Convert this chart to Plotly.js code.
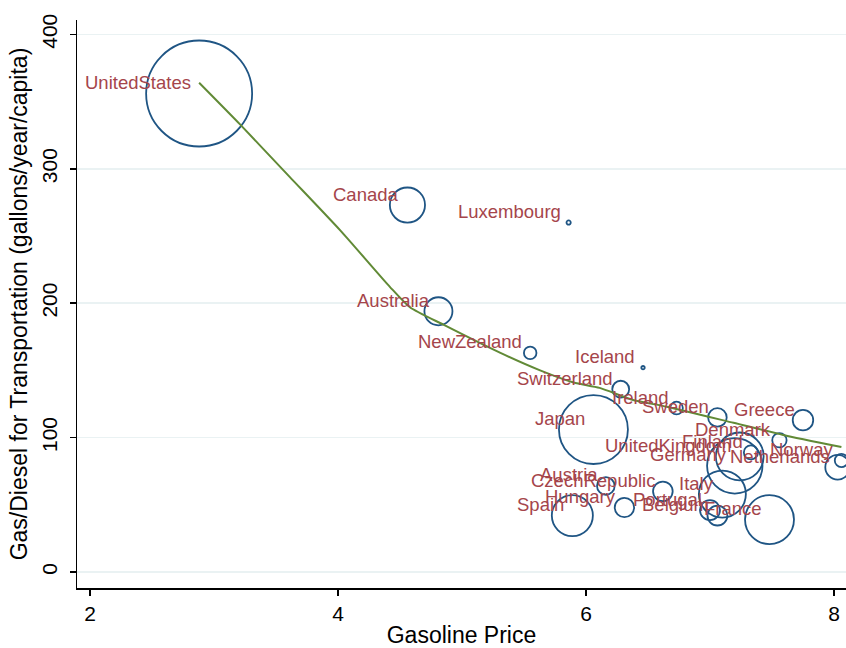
<!DOCTYPE html>
<html>
<head>
<meta charset="utf-8">
<script src="https://cdn.plot.ly/plotly-3.0.1.min.js"></script>
<style>html,body{margin:0;padding:0;background:#fff}</style>
</head>
<body>
<div id="chart" style="width:846px;height:648px"></div>
<script>
// ---- data ----
const countries = ["UnitedStates","Canada","Luxembourg","Australia","NewZealand","Iceland",
  "Switzerland","Ireland","Sweden","Greece","Japan","Denmark","Finland","UnitedKingdom",
  "Norway","Netherlands","Germany","Austria","CzechRepublic","Italy","Hungary","Spain",
  "Portugal","Belgium","France"];
const gasolinePrice = [2.88,4.56,5.86,4.81,5.55,6.46,6.28,6.73,7.06,7.75,6.06,7.56,7.33,7.24,
  8.06,8.03,7.20,6.16,6.62,7.10,6.31,5.89,7.00,7.06,7.48];
const gasPerCapita = [356,273,260,194,163,152,136,122,115,113,106,98,89,86,
  83,78,79,64,60,58,48,42,46,42,39];
const populationMillions = [300,33,0.48,21,4.2,0.31,7.6,4.3,9.2,11.2,127,5.5,5.3,61,
  4.7,16.4,82,8.3,10.3,59,10.0,45,10.6,10.6,64];
const lowessPrice = [2.88,3.21,3.61,4.02,4.42,4.58,4.85,5.31,5.63,5.90,6.11,6.38,6.65,7.19,7.59,8.06];
const lowessFit   = [364,333,294,254,212,197,184,163,150,141,137,128,123,111,102,93];
const xTickValues = [2,4,6,8];
const yTickValues = [0,100,200,300,400];

// ---- styles ----
const FONT = "Liberation Sans, Arial, Helvetica, sans-serif";
const markerColor = "#1f5584";
const labelColor = "#a5454b";
const lineColor = "#618a36";

const bubbles = {
  type: "scatter",
  mode: "markers",
  x: gasolinePrice,
  y: gasPerCapita,
  text: countries,
  hoverinfo: "text",
  marker: {
    size: populationMillions,
    sizemode: "area",
    sizeref: 300 / (2 * 53 * 53),
    opacity: 1,
    color: "rgba(0,0,0,0)",
    line: {color: markerColor, width: 1.8}
  },
  showlegend: false
};

const lowess = {
  type: "scatter",
  mode: "lines",
  x: lowessPrice,
  y: lowessFit,
  line: {color: lineColor, width: 2, shape: "spline", smoothing: 0.6},
  hoverinfo: "skip",
  showlegend: false
};

const labels = countries.map((c, i) => ({
  x: gasolinePrice[i],
  y: gasPerCapita[i],
  xref: "x", yref: "y",
  text: c,
  showarrow: false,
  xanchor: "right",
  yanchor: "middle",
  xshift: -7,
  yshift: 11,
  borderpad: 0,
  font: {family: FONT, size: 18.5, color: labelColor}
}));

const layout = {
  width: 846,
  height: 648,
  margin: {l: 77, r: 0, t: 20, b: 60},
  paper_bgcolor: "#ffffff",
  plot_bgcolor: "#ffffff",
  font: {family: FONT, color: "#000"},
  xaxis: {
    range: [1.895, 8.097],
    tickvals: xTickValues,
    ticktext: xTickValues.map(String),
    showgrid: false,
    zeroline: false,
    showline: true,
    linecolor: "#000",
    linewidth: 1.5,
    ticks: "outside",
    ticklen: 6,
    tickwidth: 1.5,
    tickcolor: "#000",
    tickfont: {family: FONT, size: 21, color: "#000"},
    title: {text: "Gasoline Price", font: {family: FONT, size: 23, color: "#000"}, standoff: 6},
    fixedrange: true
  },
  yaxis: {
    range: [-11.9, 410.7],
    tickvals: yTickValues,
    ticktext: yTickValues.map(String),
    tickangle: -90,
    ticklabelstandoff: 4,
    showgrid: true,
    gridcolor: "#eaf2f3",
    gridwidth: 1.5,
    zeroline: false,
    showline: true,
    linecolor: "#000",
    linewidth: 1.5,
    ticks: "outside",
    ticklen: 6,
    tickwidth: 1.5,
    tickcolor: "#000",
    tickfont: {family: FONT, size: 21, color: "#000"},
    title: {text: "Gas/Diesel for Transportation (gallons/year/capita)", font: {family: FONT, size: 23, color: "#000"}, standoff: 4},
    fixedrange: true
  },
  annotations: labels,
  showlegend: false
};

Plotly.newPlot("chart", [bubbles, lowess], layout, {displayModeBar: false, staticPlot: true});
</script>
</body>
</html>
